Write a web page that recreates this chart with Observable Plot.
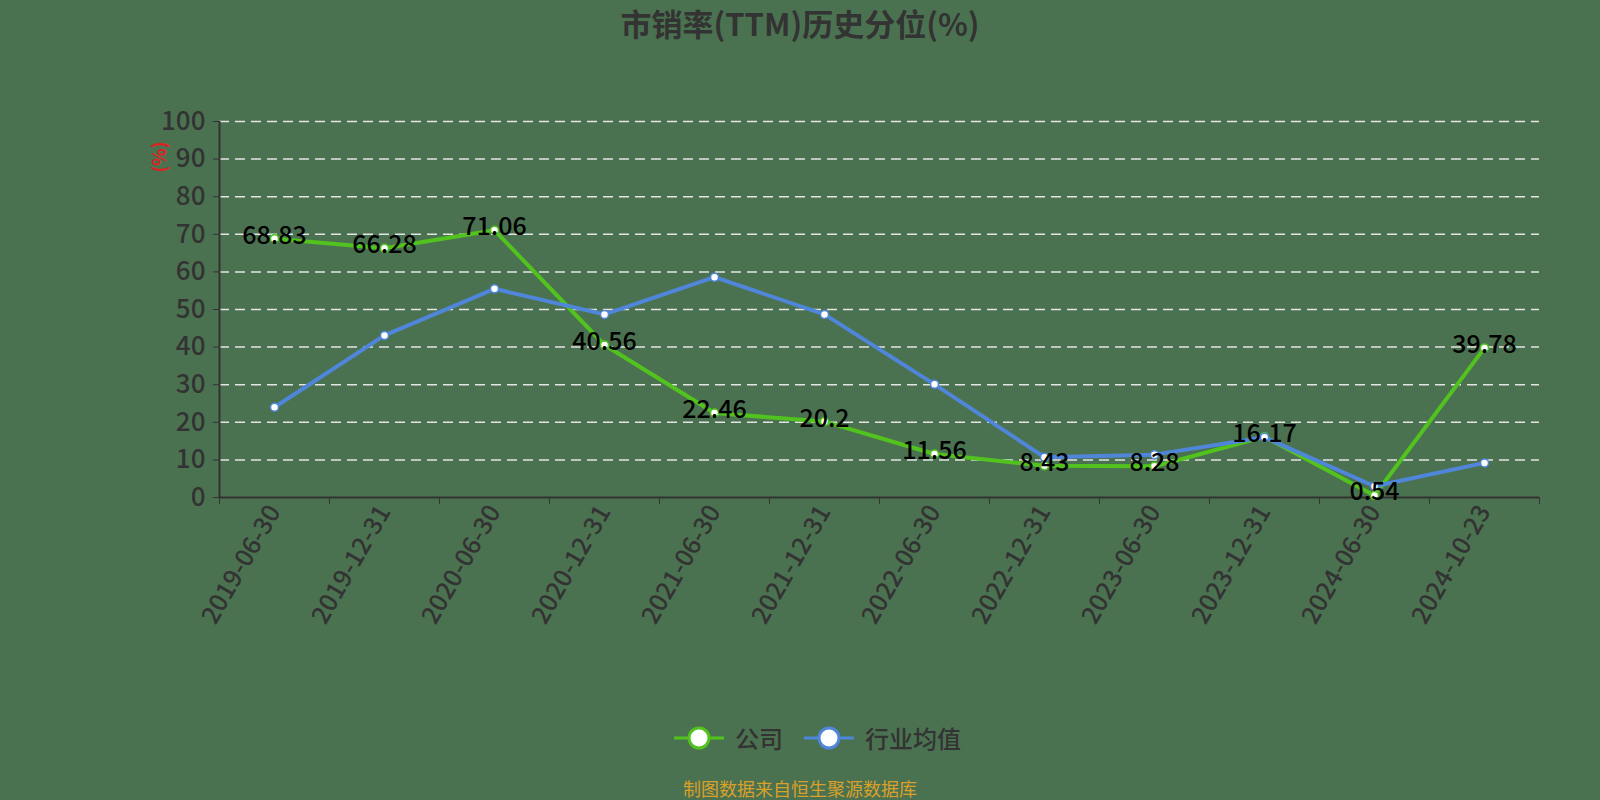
<!DOCTYPE html>
<html>
<head>
<meta charset="utf-8">
<script src="https://cdn.jsdelivr.net/npm/d3@7"></script>
<script src="https://cdn.jsdelivr.net/npm/@observablehq/plot@0.6"></script>
<style>
  html, body { margin: 0; padding: 0; background: #4b7250; }
  body { width: 1600px; height: 800px; position: relative; overflow: hidden; font-family: "Noto Sans CJK SC", "Noto Sans", sans-serif; }
  #title { position: absolute; left: 0; width: 1600px; top: 4px; text-align: center; font-size: 31px; font-weight: bold; color: #333; line-height: 38px; }
  #chart { position: absolute; left: 0; top: 0; }
  #ylabel { position: absolute; left: 146px; top: 141px; width: 24px; height: 34px; color: #e02020; font-size: 18px; font-weight: bold; }
  #ylabel span { display: block; transform: rotate(-90deg); transform-origin: center; width: 34px; position: absolute; left: -5px; top: 4px; text-align: center; line-height: 24px; }
  #legend { position: absolute; left: 17px; width: 1600px; top: 720px; display: flex; justify-content: center; align-items: center; font-size: 24px; font-weight: 500; color: #333; }
  #legend .item { display: flex; align-items: center; margin: 0 10px; }
  #legend svg { margin-right: 10px; }
  #footer { position: absolute; left: 0; width: 1600px; top: 776px; text-align: center; font-size: 18px; color: #d9a02a; line-height: 24px; }
</style>
</head>
<body>
<div id="title">市销率(TTM)历史分位(%)</div>
<div id="chart"></div>
<div id="ylabel"><span>(%)</span></div>
<div id="legend"></div>
<div id="footer">制图数据来自恒生聚源数据库</div>
<script>
const dates = ["2019-06-30","2019-12-31","2020-06-30","2020-12-31","2021-06-30","2021-12-31","2022-06-30","2022-12-31","2023-06-30","2023-12-31","2024-06-30","2024-10-23"];
const companyValues = [68.83, 66.28, 71.06, 40.56, 22.46, 20.2, 11.56, 8.43, 8.28, 16.17, 0.54, 39.78];
const companyLabels = ["68.83","66.28","71.06","40.56","22.46","20.2","11.56","8.43","8.28","16.17","0.54","39.78"];
const industryValues = [24.0, 43.1, 55.5, 48.7, 58.6, 48.7, 30.1, 10.7, 11.4, 16.0, 3.0, 9.2];
const yTicks = [0,10,20,30,40,50,60,70,80,90,100];
const seriesNames = ["公司", "行业均值"];
const seriesColors = ["#52c21f", "#4f86d9"];

const company = dates.map((d, i) => ({i, date: d, v: companyValues[i], label: companyLabels[i]}));
const industry = dates.map((d, i) => ({i, date: d, v: industryValues[i]}));
const boundaries = d3.range(dates.length + 1).map(k => k - 0.5);

const chart = Plot.plot({
  width: 1600,
  height: 800,
  marginTop: 121,
  marginBottom: 303,
  marginLeft: 219,
  marginRight: 61,
  style: {background: "transparent", fontFamily: "'Noto Sans CJK SC', 'Noto Sans', sans-serif", color: "#333"},
  x: {type: "linear", domain: [-0.5, dates.length - 0.5]},
  y: {domain: [0, 100]},
  marks: [
    Plot.gridY(yTicks.filter(t => t > 0), {stroke: "#e4e4e4", strokeOpacity: 1, strokeWidth: 1.5, strokeDasharray: "10,6"}),
    Plot.axisY(yTicks, {tickSize: 6, tickPadding: 8, fontSize: 26, fontWeight: 500, label: null, stroke: "#333", fill: "#333", tickFormat: d => String(d)}),
    Plot.ruleX([-0.5], {stroke: "#333", strokeWidth: 2}),
    Plot.ruleY([0], {stroke: "#333", strokeWidth: 2}),
    Plot.axisX(boundaries, {tickSize: 7, tickFormat: () => "", label: null, stroke: "#333"}),
    Plot.axisX(d3.range(dates.length), {tickSize: 0, tickPadding: 10, tickFormat: i => dates[i], tickRotate: -60, fontSize: 25, fontWeight: 500, fill: "#333", label: null}),
    Plot.line(company, {x: "i", y: "v", stroke: seriesColors[0], strokeWidth: 4}),
    Plot.dot(company, {x: "i", y: "v", r: 4, fill: "white", stroke: seriesColors[0], strokeWidth: 1.5}),
    Plot.line(industry, {x: "i", y: "v", stroke: seriesColors[1], strokeWidth: 4}),
    Plot.dot(industry, {x: "i", y: "v", r: 4, fill: "white", stroke: seriesColors[1], strokeWidth: 1.5}),
    Plot.text(company, {x: "i", y: "v", text: "label", fontSize: 25, fontWeight: 500, fill: "#000", dy: -3})
  ]
});
document.getElementById("chart").appendChild(chart);

const legend = document.getElementById("legend");
seriesNames.forEach((name, k) => {
  const item = document.createElement("div");
  item.className = "item";
  item.innerHTML = `<svg width="52" height="26"><line x1="1" y1="13" x2="51" y2="13" stroke="${seriesColors[k]}" stroke-width="3"/><circle cx="26" cy="13" r="10" fill="white" stroke="${seriesColors[k]}" stroke-width="3"/></svg><span>${name}</span>`;
  legend.appendChild(item);
});
</script>
</body>
</html>
